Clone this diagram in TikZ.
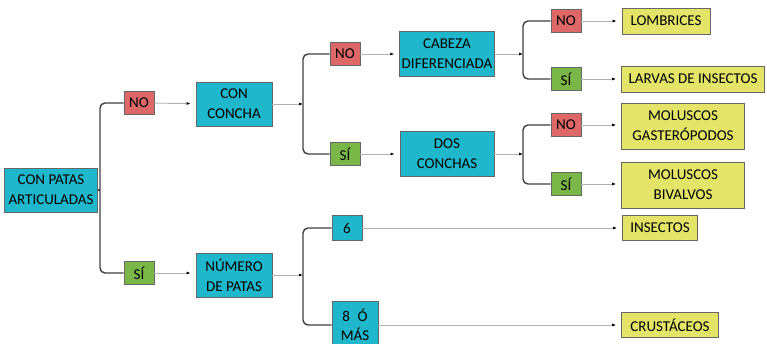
\documentclass[tikz,border=0pt]{standalone}
\usepackage{fontspec}
\setmainfont{Carlito}
\usepackage{tikz}
\usepackage{xcolor}
\usetikzlibrary{positioning, arrows.meta}

\definecolor{boxteal}{RGB}{31,183,203}
\definecolor{boxred}{RGB}{222,104,104}
\definecolor{boxgreen}{RGB}{122,182,72}
\definecolor{boxyellow}{RGB}{228,228,104}

\begin{document}
\begin{tikzpicture}[x=1pt, y=-1pt,
    every node/.style={font=\fontsize{15}{20}\selectfont, align=center, inner sep=2pt},
    tealbox/.style={draw=black!60, line width=0.8pt, fill=boxteal},
    nobox/.style={draw=black!60, line width=0.8pt, fill=boxred, minimum width=30pt, minimum height=23pt},
    sibox/.style={draw=black!60, line width=0.8pt, fill=boxgreen, minimum width=30pt, minimum height=23pt},
    leafbox/.style={draw=black!60, line width=0.8pt, fill=boxyellow, minimum height=26pt},
    bracket/.style={line width=1.4pt, color=black!75, rounded corners=5pt},
    link/.style={line width=0.9pt, color=black!30, shorten >=5pt, -{Latex[length=4pt,width=3pt,color=black]}},
    feed/.style={line width=0.9pt, color=black!30, -{Latex[length=4pt,width=3pt,color=black]}}]

  \useasboundingbox (0,0) rectangle (767,344);
  \fill[white] (0,0) rectangle (767,344);

  % Root
  \node[tealbox, minimum width=93pt, minimum height=44pt] (patas) at (51,190) {CON PATAS\\ARTICULADAS};

  % First split
  \node[nobox] (no1) at (139,103) {NO};
  \node[sibox] (si1) at (139,273) {SÍ};
  \node[tealbox, minimum width=76pt, minimum height=44pt] (concha) at (234,104) {CON\\CONCHA};
  \node[tealbox, minimum width=76pt, minimum height=44pt] (numero) at (234,275) {NÚMERO\\DE PATAS};

  % Second split
  \node[nobox] (no2) at (345,54) {NO};
  \node[sibox] (si2) at (345,154) {SÍ};
  \node[tealbox, minimum width=94pt, minimum height=45pt] (cabeza) at (447,54) {CABEZA\\DIFERENCIADA};
  \node[tealbox, minimum width=94pt, minimum height=45pt] (dos) at (447,154) {DOS\\CONCHAS};
  \node[tealbox, minimum width=30pt, minimum height=25pt] (seis) at (347,228) {6};
  \node[tealbox, minimum width=46pt, minimum height=48pt,
        font=\fontsize{15}{19}\selectfont] (ocho) at (355,325) {8\enspace Ó\\MÁS};

  % Third split
  \node[nobox] (no3) at (566,21) {NO};
  \node[sibox] (si3) at (566,79) {SÍ};
  \node[nobox] (no4) at (566,125) {NO};
  \node[sibox] (si4) at (566,184) {SÍ};

  % Leaves
  \node[leafbox, minimum width=88pt] (lombrices) at (666,21) {LOMBRICES};
  \node[leafbox, minimum width=143pt] (larvas) at (693,79) {LARVAS DE INSECTOS};
  \node[leafbox, minimum width=123pt, minimum height=46pt] (gaster) at (683,126) {MOLUSCOS\\GASTERÓPODOS};
  \node[leafbox, minimum width=123pt, minimum height=46pt] (bival) at (683,185) {MOLUSCOS\\BIVALVOS};
  \node[leafbox, minimum width=75pt, minimum height=25pt] (insectos) at (660,228) {INSECTOS};
  \node[leafbox, minimum width=97pt, minimum height=25pt] (crust) at (670,325) {CRUSTÁCEOS};

  % Junctions
  \coordinate (j1) at (100,190);
  \coordinate (j2) at (303,104);
  \coordinate (j3) at (303,275);
  \coordinate (j4) at (523,54);
  \coordinate (j5) at (523,154);

  % Brackets
  \draw[bracket] (no1.west) -| (j1) |- (si1.west);
  \draw[line width=1.4pt, color=black!75] (patas.east) -- (j1);
  \draw[bracket] (no2.west) -| (j2) |- (si2.west);
  \draw[bracket] (seis.west) -| (j3) |- (ocho.west);
  \draw[bracket] (no3.west) -| (j4) |- (si3.west);
  \draw[bracket] (no4.west) -| (j5) |- (si4.west);

  % Connectors into junctions
  \draw[feed] (concha.east) -- (j2);
  \draw[feed] (numero.east) -- (j3);
  \draw[feed] (cabeza.east) -- (j4);
  \draw[feed] (dos.east) -- (j5);

  % Connectors to boxes
  \draw[link] (no1) -- (concha);
  \draw[link] (si1) -- (si1 -| numero.west);
  \draw[link] (no2) -- (cabeza);
  \draw[link] (si2) -- (dos);
  \draw[link] (no3) -- (lombrices);
  \draw[link] (si3) -- (larvas);
  \draw[link] (no4) -- (no4 -| gaster.west);
  \draw[link] (si4) -- (si4 -| bival.west);
  \draw[link] (seis) -- (insectos);
  \draw[link] (ocho.east |- crust) -- (crust);

\end{tikzpicture}
\end{document}
